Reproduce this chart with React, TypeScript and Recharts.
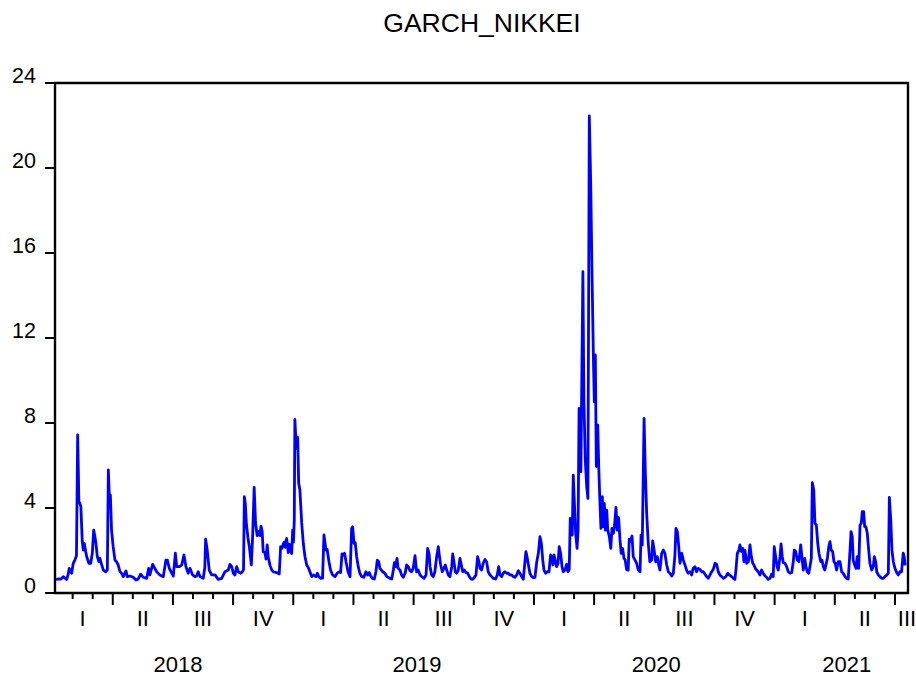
import React from 'react';
import { LineChart, Line, XAxis, YAxis, ReferenceArea } from 'recharts';

const FONT = 'Arial, "Liberation Sans", Helvetica, sans-serif';

// x = months since 1 Jan 2018, value = GARCH conditional variance
const y2018: [number, number][] = [
  [0.17,0.64],[0.32,0.66],[0.42,0.66],[0.53,0.77],[0.62,0.70],[0.70,0.64],[0.77,0.85],[0.83,1.16],[0.89,1.00],[0.95,0.93],
  [1.03,1.40],[1.11,1.55],[1.19,1.75],[1.25,7.44],[1.31,4.30],[1.36,4.22],[1.41,4.06],[1.48,2.42],[1.53,2.02],[1.58,2.34],
  [1.65,1.95],[1.70,1.71],[1.81,1.40],[1.90,1.40],[1.98,1.87],[2.05,2.96],[2.11,2.65],[2.16,2.34],[2.23,1.71],[2.31,1.47],
  [2.36,1.63],[2.45,1.32],[2.53,1.08],[2.65,1.00],[2.73,1.08],[2.78,5.79],[2.83,4.53],[2.88,4.61],[2.94,2.96],[3.02,2.18],
  [3.11,1.55],[3.19,1.47],[3.27,1.32],[3.36,1.00],[3.44,0.93],[3.52,0.77],[3.66,1.04],[3.72,0.77],[3.86,0.80],[4.02,0.74],
  [4.16,0.61],[4.27,0.66],[4.39,0.89],[4.52,0.74],[4.69,0.69],[4.79,1.16],[4.85,0.85],[4.99,1.35],[5.10,1.16],[5.19,1.00],
  [5.35,0.85],[5.52,0.77],[5.65,1.55],[5.72,1.55],[5.82,1.16],[5.94,0.93],[6.02,0.80],[6.12,1.87],[6.19,1.24],[6.32,1.24],
  [6.44,1.32],[6.55,1.79],[6.65,1.24],[6.76,0.93],[6.85,1.16],[6.98,0.85],[7.10,0.77],[7.18,0.80],[7.26,1.00],[7.35,0.77],
  [7.51,0.69],[7.59,1.20],[7.63,2.53],[7.71,2.02],[7.81,1.08],[7.93,0.85],[8.10,0.85],[8.26,0.64],[8.43,0.69],[8.59,1.00],
  [8.76,1.08],[8.84,1.35],[8.93,1.24],[9.01,0.93],[9.09,0.85],[9.18,1.24],[9.26,1.00],[9.38,0.93],[9.46,1.00],[9.52,1.10],
  [9.56,4.53],[9.61,4.20],[9.66,3.29],[9.74,2.60],[9.81,2.18],[9.91,1.32],[9.98,2.82],[10.05,4.97],[10.12,3.28],[10.20,2.70],
  [10.29,2.90],[10.34,2.70],[10.39,3.15],[10.45,2.90],[10.50,1.94],[10.59,1.90],[10.64,1.60],[10.70,2.26],[10.75,1.70],[10.84,1.30],
  [10.92,1.10],[11.00,1.00],[11.17,0.96],[11.30,0.90],[11.37,2.18],[11.44,2.10],[11.50,2.30],[11.55,2.40],[11.60,2.15],[11.67,2.57],
  [11.75,1.90],[11.80,2.30],[11.87,2.00],[11.92,1.85],[11.97,2.96],
];

const y2019: [number, number][] = [
  [12.01,2.40],[12.05,3.40],[12.08,8.17],[12.15,6.80],[12.22,7.33],[12.27,5.16],[12.33,4.85],[12.42,3.30],[12.50,2.34],[12.58,1.73],
  [12.67,1.32],[12.75,1.20],[12.83,1.00],[12.92,0.77],[13.00,0.85],[13.13,0.77],[13.20,0.93],[13.27,0.77],[13.37,0.69],[13.46,0.70],
  [13.53,2.73],[13.63,2.02],[13.69,2.05],[13.78,1.47],[13.86,1.08],[13.96,0.85],[14.08,0.77],[14.19,0.93],[14.29,1.00],[14.36,0.96],
  [14.43,1.84],[14.49,1.79],[14.56,1.87],[14.63,1.47],[14.73,1.00],[14.83,0.77],[14.91,3.04],[14.96,3.12],[15.03,2.34],[15.09,2.37],
  [15.16,1.71],[15.24,1.24],[15.32,0.93],[15.41,0.77],[15.52,0.74],[15.62,1.00],[15.71,0.85],[15.79,0.96],[15.86,0.80],[15.94,0.69],
  [16.04,0.66],[16.12,1.00],[16.19,1.55],[16.26,1.47],[16.32,1.16],[16.46,1.00],[16.57,0.93],[16.66,0.77],[16.82,0.69],[16.91,0.66],
  [16.99,1.08],[17.04,1.43],[17.11,1.24],[17.17,1.63],[17.23,1.16],[17.32,1.08],[17.40,0.85],[17.48,0.74],[17.58,0.93],[17.65,1.32],
  [17.73,1.24],[17.82,1.05],[17.90,1.00],[17.98,1.16],[18.07,1.76],[18.15,1.00],[18.23,1.08],[18.32,0.85],[18.40,0.77],[18.52,0.69],
  [18.62,0.85],[18.70,2.10],[18.77,1.87],[18.82,1.24],[18.90,0.85],[18.98,0.77],[19.06,1.00],[19.15,1.71],[19.23,2.18],[19.28,1.79],
  [19.35,1.32],[19.43,1.00],[19.51,1.16],[19.58,1.32],[19.65,1.08],[19.73,0.85],[19.81,0.77],[19.90,1.24],[19.95,1.84],[20.01,1.47],
  [20.08,1.00],[20.15,0.93],[20.23,1.08],[20.31,1.63],[20.38,1.32],[20.45,1.00],[20.53,1.08],[20.61,0.96],[20.70,0.93],[20.78,0.77],
  [20.86,0.66],[20.94,0.64],[21.02,0.72],[21.11,0.85],[21.19,1.71],[21.26,1.47],[21.31,1.16],[21.39,1.08],[21.47,1.40],[21.56,1.58],
  [21.64,1.47],[21.72,1.00],[21.81,0.85],[21.89,0.77],[21.97,0.69],[22.09,0.66],[22.17,0.85],[22.24,1.24],[22.31,0.85],[22.39,0.77],
  [22.47,0.93],[22.55,1.00],[22.64,0.93],[22.72,0.93],[22.80,0.85],[22.89,0.85],[22.97,0.77],[23.05,0.74],[23.14,0.85],[23.22,1.05],
  [23.30,0.93],[23.39,0.77],[23.47,0.65],[23.55,1.47],[23.60,1.95],[23.67,1.63],[23.74,1.24],[23.80,0.93],[23.89,0.77],[23.97,0.72],
];

const y2020: [number, number][] = [
  [24.05,0.74],[24.14,1.47],[24.22,1.87],[24.30,2.65],[24.37,2.34],[24.44,1.55],[24.50,1.08],[24.58,0.93],[24.66,1.00],[24.75,1.00],
  [24.83,1.79],[24.88,1.71],[24.95,1.32],[25.00,1.79],[25.06,1.55],[25.13,1.24],[25.20,1.40],[25.26,2.18],[25.33,1.87],[25.40,1.24],
  [25.46,1.00],[25.55,1.08],[25.63,1.36],[25.70,1.00],[25.76,1.10],[25.81,3.51],[25.86,3.45],[25.91,2.73],[25.96,5.55],[26.01,4.38],
  [26.08,2.81],[26.15,2.10],[26.20,2.96],[26.25,8.69],[26.29,5.71],[26.34,5.71],[26.44,15.12],[26.49,9.08],[26.56,6.26],[26.63,5.00],
  [26.69,4.45],[26.76,22.45],[26.83,19.28],[26.89,15.36],[26.96,11.28],[27.01,9.00],[27.06,11.20],[27.11,5.95],[27.18,7.90],[27.23,5.95],
  [27.28,4.53],[27.34,3.04],[27.41,4.53],[27.46,3.12],[27.51,4.22],[27.56,2.96],[27.63,3.90],[27.68,2.96],[27.76,2.65],[27.83,2.10],
  [27.89,3.04],[27.96,2.81],[28.02,3.20],[28.09,4.03],[28.15,2.96],[28.22,3.56],[28.29,2.50],[28.35,1.87],[28.42,2.10],[28.49,1.63],
  [28.55,1.55],[28.62,1.10],[28.70,1.08],[28.75,2.53],[28.82,2.42],[28.89,2.68],[28.95,1.71],[29.04,1.55],[29.12,1.40],[29.20,1.08],
  [29.29,1.00],[29.34,2.73],[29.40,2.26],[29.49,8.22],[29.55,5.79],[29.62,3.75],[29.70,2.34],[29.78,1.47],[29.87,1.55],[29.92,2.45],
  [29.98,2.10],[30.07,1.47],[30.15,1.71],[30.22,1.32],[30.28,1.08],[30.37,1.87],[30.45,2.02],[30.53,1.87],[30.62,1.32],[30.70,1.00],
  [30.78,0.93],[30.87,0.80],[30.95,0.93],[31.03,1.79],[31.08,3.04],[31.15,2.89],[31.22,2.18],[31.28,1.40],[31.37,1.87],[31.45,1.55],
  [31.53,1.32],[31.61,1.08],[31.69,0.93],[31.78,1.00],[31.86,0.85],[31.94,1.16],[32.03,1.24],[32.11,1.00],[32.19,1.16],[32.28,1.11],
  [32.36,1.00],[32.44,1.00],[32.53,0.88],[32.61,0.77],[32.69,0.69],[32.78,0.85],[32.86,1.00],[32.94,1.11],[33.03,1.40],[33.11,1.35],
  [33.19,1.00],[33.27,0.85],[33.36,0.77],[33.44,0.69],[33.57,0.77],[33.66,0.93],[33.74,0.85],[33.82,0.80],[33.94,0.69],[34.02,0.64],
  [34.07,1.08],[34.14,1.87],[34.22,2.02],[34.27,2.26],[34.34,1.95],[34.41,2.10],[34.47,1.47],[34.52,2.02],[34.61,1.40],[34.69,1.47],
  [34.77,2.26],[34.84,1.71],[34.91,1.40],[34.97,1.32],[35.04,1.16],[35.10,1.08],[35.18,1.00],[35.27,0.85],[35.35,1.08],[35.43,0.93],
  [35.52,0.80],[35.60,0.74],[35.68,0.64],[35.77,0.69],[35.85,0.89],[35.93,0.77],[35.98,2.18],
];

const y2021: [number, number][] = [
  [36.05,1.71],[36.12,1.24],[36.18,1.08],[36.27,1.71],[36.32,2.31],[36.38,1.71],[36.43,1.43],[36.52,1.40],[36.60,1.24],[36.68,1.00],
  [36.77,0.93],[36.85,0.96],[36.93,1.47],[36.98,2.02],[37.05,1.95],[37.13,1.55],[37.21,1.47],[37.30,2.26],[37.36,1.71],[37.43,1.08],
  [37.50,1.63],[37.56,1.24],[37.63,1.00],[37.70,0.93],[37.76,1.24],[37.83,1.63],[37.88,5.19],[37.95,4.85],[38.01,3.28],[38.08,3.20],
  [38.15,2.34],[38.21,1.87],[38.30,1.47],[38.36,1.55],[38.43,1.24],[38.50,1.08],[38.56,1.32],[38.63,1.63],[38.70,2.18],[38.76,2.42],
  [38.82,2.02],[38.89,1.95],[38.96,1.47],[39.02,1.40],[39.09,1.08],[39.17,1.47],[39.26,1.47],[39.34,1.00],[39.42,0.93],[39.51,0.77],
  [39.59,0.69],[39.67,0.66],[39.76,2.02],[39.81,2.89],[39.87,2.65],[39.92,1.55],[39.99,1.32],[40.06,1.16],[40.12,1.71],[40.19,1.16],
  [40.26,3.20],[40.32,3.28],[40.37,3.83],[40.44,3.83],[40.49,3.12],[40.55,3.12],[40.62,2.81],[40.69,2.02],[40.75,1.40],[40.84,1.08],
  [40.92,1.24],[40.97,1.71],[41.04,1.47],[41.09,1.00],[41.17,0.85],[41.25,0.77],[41.34,0.69],[41.42,0.69],[41.50,0.77],[41.59,0.85],
  [41.67,0.93],[41.72,4.50],[41.79,3.44],[41.85,2.02],[41.92,1.47],[42.00,1.16],[42.09,0.96],[42.17,0.85],[42.25,1.00],[42.33,1.00],
  [42.41,1.87],[42.46,1.71],[42.51,1.30],
];

const yTicks = [0, 4, 8, 12, 16, 20, 24];
const monthTicks = [
  1, 2, 3, 4, 5, 6, 7, 8, 9, 10, 11, 12, 13, 14, 15, 16, 17, 18, 19, 20, 21,
  22, 23, 24, 25, 26, 27, 28, 29, 30, 31, 32, 33, 34, 35, 36, 37, 38, 39, 40, 41, 42,
];
const quarterLabels = ['I', 'II', 'III', 'IV', 'I', 'II', 'III', 'IV', 'I', 'II', 'III', 'IV', 'I', 'II', 'III'];
const quarterPos = [1.5, 4.5, 7.5, 10.5, 13.5, 16.5, 19.5, 22.5, 25.5, 28.5, 31.5, 34.5, 37.5, 40.5, 42.6];
const yearLabels = ['2018', '2019', '2020', '2021'];
const yearPos = [6.25, 18.17, 30.1, 39.6];

const xDomain: [number, number] = [0.12, 42.65];

const data = [...y2018, ...y2019, ...y2020, ...y2021].map(([t, v]) => ({ t, v }));

const key = (v: number) => v.toFixed(2);
const quarterByPos = new Map(quarterPos.map((p, i) => [key(p), quarterLabels[i]]));
const yearByPos = new Map(yearPos.map((p, i) => [key(p), yearLabels[i]]));
const allXTicks = [...monthTicks, ...quarterPos, ...yearPos].sort((a, b) => a - b);

function XTick(props: any) {
  const { x, y, payload } = props;
  const k = key(payload.value);
  const q = quarterByPos.get(k);
  if (q) {
    return (
      <text x={x} y={y + 33} textAnchor="middle" fontSize={22} fontFamily={FONT} fill="#000">
        {q}
      </text>
    );
  }
  const yr = yearByPos.get(k);
  if (yr) {
    return (
      <text x={x} y={y + 79} textAnchor="middle" fontSize={22} fontFamily={FONT} fill="#000">
        {yr}
      </text>
    );
  }
  const m = Math.round(payload.value);
  const len = m % 3 === 0 ? 12 : 6;
  return <line x1={x} y1={y} x2={x} y2={y + len} stroke="#000" strokeWidth={2} />;
}

function YTick(props: any) {
  const { x, y, payload } = props;
  return (
    <text x={x} y={y} textAnchor="end" fontSize={21.5} fontFamily={FONT} fill="#000">
      {payload.value}
    </text>
  );
}

export default function App() {
  return (
    <div style={{ position: 'absolute', left: 0, top: 0, width: 916, height: 676, background: '#fff' }}>
      <LineChart width={916} height={676} data={data} margin={{ top: 83, right: 8, bottom: 0, left: 0 }}>
        <XAxis
          dataKey="t"
          type="number"
          domain={xDomain}
          allowDataOverflow
          ticks={allXTicks}
          interval={0}
          height={83}
          tickSize={0}
          tickMargin={0}
          tickLine={false}
          axisLine={false}
          tick={XTick}
        />
        <YAxis
          type="number"
          domain={[0, 24]}
          ticks={yTicks}
          interval={0}
          width={55}
          tickSize={10}
          tickMargin={9}
          tickLine={{ stroke: '#000', strokeWidth: 2 }}
          axisLine={false}
          tick={YTick}
        />
        <ReferenceArea
          x1={xDomain[0]}
          x2={xDomain[1]}
          y1={0}
          y2={24}
          fill="none"
          fillOpacity={0}
          stroke="#000"
          strokeWidth={2.4}
          ifOverflow="visible"
        />
        <Line
          type="linear"
          dataKey="v"
          stroke="#0000FF"
          strokeWidth={2.8}
          strokeLinejoin="round"
          dot={false}
          activeDot={false}
          isAnimationActive={false}
        />
      </LineChart>
      <svg
        width={916}
        height={676}
        style={{ position: 'absolute', left: 0, top: 0, pointerEvents: 'none' }}
      >
        <text x={482} y={32} textAnchor="middle" fontSize={26.5} fontFamily={FONT} fill="#000">
          GARCH_NIKKEI
        </text>
      </svg>
    </div>
  );
}
